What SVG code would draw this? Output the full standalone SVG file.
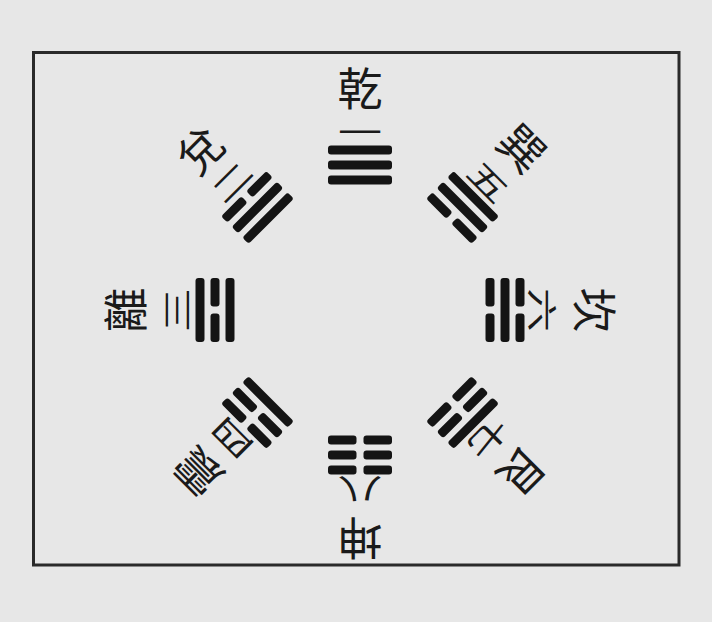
<svg xmlns="http://www.w3.org/2000/svg" xmlns:xlink="http://www.w3.org/1999/xlink" width="712" height="622" viewBox="0 0 712 622">
<style>
.bg{fill:#e7e7e7}
.frame{fill:none;stroke:#2a2a2a;stroke-width:3}
.line{fill:#141414}
.name{font-family:"Liberation Sans","Noto Sans CJK SC","Noto Sans CJK TC",sans-serif;font-size:45px;fill:#1a1a1a;text-anchor:middle}
.num{font-family:"Liberation Sans","Noto Sans CJK SC","Noto Sans CJK TC",sans-serif;font-size:44px;fill:#1a1a1a;text-anchor:middle}
</style>
<defs>
<rect id="yang" class="line" x="-32" y="-4.5" width="64" height="9" rx="3"/>
<g id="yin" class="line">
<rect x="-32" y="-4.5" width="28.5" height="9" rx="3"/>
<rect x="3.5" y="-4.5" width="28.5" height="9" rx="3"/>
</g>
</defs>
<rect class="bg" x="0" y="0" width="712" height="622"/>
<rect class="frame" x="33.5" y="52.5" width="645.5" height="512.5"/>

<g id="connectors"></g>

<g id="qian" transform="rotate(0 360 310)">
<use xlink:href="#yang" href="#yang" x="360" y="150"/>
<use xlink:href="#yang" href="#yang" x="360" y="165"/>
<use xlink:href="#yang" href="#yang" x="360" y="180"/>
<text class="num" transform="translate(360,132) scale(1,0.68)" y="16.7">一</text>
<text class="name" x="360" y="106">乾</text>
</g>

<g id="dui" transform="rotate(-45 360 310)">
<use xlink:href="#yin" href="#yin" x="360" y="150"/>
<use xlink:href="#yang" href="#yang" x="360" y="165"/>
<use xlink:href="#yang" href="#yang" x="360" y="180"/>
<text class="num" transform="translate(360,129) scale(1,0.68)" y="16.7">二</text>
<text class="name" x="360" y="101">兌</text>
</g>

<g id="li" transform="rotate(-90 360 310)">
<use xlink:href="#yang" href="#yang" x="360" y="150"/>
<use xlink:href="#yin" href="#yin" x="360" y="165"/>
<use xlink:href="#yang" href="#yang" x="360" y="180"/>
<text class="num" transform="translate(360,127) scale(1,0.68)" y="16.7">三</text>
<text class="name" x="360" y="93">離</text>
</g>

<g id="zhen" transform="rotate(-135 360 310)">
<use xlink:href="#yin" href="#yin" x="360" y="150"/>
<use xlink:href="#yin" href="#yin" x="360" y="165"/>
<use xlink:href="#yang" href="#yang" x="360" y="180"/>
<text class="num" transform="translate(360,129) scale(1,0.68)" y="16.7">四</text>
<text class="name" x="360" y="98">震</text>
</g>

<g id="xun" transform="rotate(45 360 310)">
<use xlink:href="#yang" href="#yang" x="360" y="150"/>
<use xlink:href="#yang" href="#yang" x="360" y="165"/>
<use xlink:href="#yin" href="#yin" x="360" y="180"/>
<text class="num" transform="translate(360,129) scale(1,0.68)" y="16.7">五</text>
<text class="name" x="360" y="98">巽</text>
</g>

<g id="kan" transform="rotate(90 360 310)">
<use xlink:href="#yin" href="#yin" x="360" y="150"/>
<use xlink:href="#yang" href="#yang" x="360" y="165"/>
<use xlink:href="#yin" href="#yin" x="360" y="180"/>
<text class="num" transform="translate(360,128) scale(1,0.68)" y="16.7">六</text>
<text class="name" x="360" y="93">坎</text>
</g>

<g id="gen" transform="rotate(135 360 310)">
<use xlink:href="#yang" href="#yang" x="360" y="150"/>
<use xlink:href="#yin" href="#yin" x="360" y="165"/>
<use xlink:href="#yin" href="#yin" x="360" y="180"/>
<text class="num" transform="translate(360,129) scale(1,0.68)" y="16.7">七</text>
<text class="name" x="360" y="98">艮</text>
</g>

<g id="kun" transform="rotate(180 360 310)">
<use xlink:href="#yin" href="#yin" x="360" y="150"/>
<use xlink:href="#yin" href="#yin" x="360" y="165"/>
<use xlink:href="#yin" href="#yin" x="360" y="180"/>
<text class="num" transform="translate(360,130) scale(1,0.68)" y="16.7">八</text>
<text class="name" x="360" y="99">坤</text>
</g>
</svg>
